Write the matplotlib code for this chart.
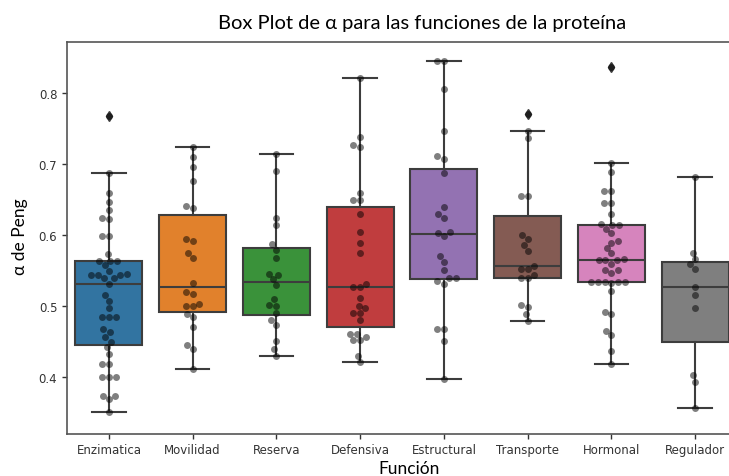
import numpy as np
import matplotlib.pyplot as plt

# categorias del eje x
funciones = ["Enzimatica", "Movilidad", "Reserva", "Defensiva",
             "Estructural", "Transporte", "Hormonal", "Regulador"]

# alfa de Peng por funcion
enzimatica = [0.7674, 0.6866, 0.6594, 0.6462, 0.6350, 0.6228, 0.6242,
              0.5984, 0.5984, 0.5725, 0.5631, 0.5631, 0.5631, 0.5570,
              0.5491, 0.5444, 0.5430, 0.5430, 0.5430, 0.5383, 0.5383,
              0.5312, 0.5148, 0.5068, 0.4960, 0.4833, 0.4833, 0.4833,
              0.4669, 0.4631, 0.4552, 0.4491, 0.4411, 0.4317, 0.4176,
              0.4176, 0.3988, 0.3988, 0.3988, 0.3730, 0.3730, 0.3683,
              0.3505]
movilidad = [0.7242, 0.7101, 0.6960, 0.6758, 0.6406, 0.6383, 0.5937,
             0.5913, 0.5749, 0.5678, 0.5317, 0.5195, 0.5162, 0.4998,
             0.4998, 0.5021, 0.4880, 0.4833, 0.4692, 0.4444, 0.4387,
             0.4106]
reserva = [0.7143, 0.6899, 0.6242, 0.6134, 0.5866, 0.5786, 0.5678,
           0.5453, 0.5430, 0.5373, 0.5289, 0.5092, 0.5007, 0.4998,
           0.4894, 0.4796, 0.4730, 0.4505, 0.4387, 0.4293]
defensiva = [0.8204, 0.7378, 0.7261, 0.7237, 0.6594, 0.6491, 0.6486,
             0.6289, 0.6040, 0.5890, 0.5739, 0.5303, 0.5256, 0.5256,
             0.5101, 0.4998, 0.4960, 0.4894, 0.4894, 0.4796, 0.4599,
             0.4599, 0.4561, 0.4514, 0.4514, 0.4293, 0.4200]
estructural = [0.8444, 0.8444, 0.8049, 0.7462, 0.7110, 0.7073, 0.6876,
               0.6392, 0.6298, 0.6242, 0.6040, 0.6031, 0.5984, 0.5702,
               0.5617, 0.5500, 0.5383, 0.5383, 0.5350, 0.5312, 0.4669,
               0.4669, 0.4505, 0.3965]
transporte = [0.7697, 0.7462, 0.7359, 0.6547, 0.6547, 0.5993, 0.5937,
              0.5852, 0.5772, 0.5561, 0.5523, 0.5523, 0.5430, 0.5383,
              0.5383, 0.5007, 0.4974, 0.4880, 0.4786]
hormonal = [0.8369, 0.7007, 0.6885, 0.6617, 0.6617, 0.6453, 0.6453,
            0.6289, 0.6157, 0.6134, 0.6134, 0.6087, 0.6031, 0.5913,
            0.5890, 0.5819, 0.5749, 0.5664, 0.5646, 0.5646, 0.5646,
            0.5594, 0.5500, 0.5500, 0.5467, 0.5340, 0.5340, 0.5340,
            0.5340, 0.5340, 0.5326, 0.5209, 0.4913, 0.4880, 0.4646,
            0.4585, 0.4364, 0.4176]
regulador = [0.6815, 0.5749, 0.5655, 0.5584, 0.5514, 0.5265, 0.5148,
             0.4960, 0.4021, 0.3927, 0.3552]

datos = [enzimatica, movilidad, reserva, defensiva,
         estructural, transporte, hormonal, regulador]

colores = ["#3274a1", "#e1812c", "#3a923a", "#c03d3e",
           "#9372b2", "#845b53", "#d684bd", "#7f7f7f"]
gris = "#3d3d3d"


def swarm_offsets(valores, ax, x0, diam):
    # acomoda los puntos tipo beeswarm en pixeles, devuelve x en datos
    pts = ax.transData.transform([(x0, v) for v in valores])
    ys = pts[:, 1]
    orden = np.argsort(ys)
    colocados = []
    xs_px = np.zeros(len(valores))
    for i in orden:
        y = ys[i]
        vecinos = [(px, py) for px, py in colocados if abs(py - y) < diam]
        cand = [0.0]
        for px, py in vecinos:
            dx = np.sqrt(diam ** 2 - (py - y) ** 2)
            cand += [px - dx, px + dx]
        cand.sort(key=lambda c: (abs(c), c))
        for c in cand:
            ok = all((c - px) ** 2 + (y - py) ** 2 >= diam ** 2 - 1e-6
                     for px, py in vecinos)
            if ok:
                break
        colocados.append((c, y))
        xs_px[i] = c
    centro = pts[0, 0]
    inv = ax.transData.inverted()
    return inv.transform(np.column_stack([centro + xs_px, ys]))[:, 0]


fig = plt.figure(figsize=(7.29, 4.77), dpi=100)
ax = fig.add_axes([67 / 729, 42.5 / 477, 670 / 729, 392 / 477])

bp = ax.boxplot(datos, positions=range(len(datos)), widths=0.8,
                patch_artist=True,
                boxprops=dict(edgecolor=gris, linewidth=1.5),
                medianprops=dict(color=gris, linewidth=1.5),
                whiskerprops=dict(color=gris, linewidth=1.5),
                capprops=dict(color=gris, linewidth=1.5),
                flierprops=dict(marker="d", markerfacecolor=gris,
                                markeredgecolor=gris, markersize=5))
for caja, c in zip(bp["boxes"], colores):
    caja.set_facecolor(c)

ax.set_xlim(-0.5, len(datos) - 0.5)
ax.set_ylim(0.3197, 0.8725)

diam = 5 * fig.dpi / 72
for i, vals in enumerate(datos):
    xs = swarm_offsets(vals, ax, i, diam)
    ax.scatter(xs, vals, s=25, color="black", alpha=0.5,
               linewidths=0, zorder=3)

ax.set_xticks(range(len(funciones)))
ax.set_xticklabels(funciones)
ax.set_yticks([0.4, 0.5, 0.6, 0.7, 0.8])
ax.tick_params(labelsize=8.5, colors="#333333", length=3.5, width=1)
for lado in ["left", "bottom", "top", "right"]:
    ax.spines[lado].set_color("#555555")
    ax.spines[lado].set_linewidth(1.2)

fuente = ["Lato", "DejaVu Sans"]
fig.text(422 / 729, 1 - 29 / 477, "Box Plot de α para las funciones de la proteína",
         ha="center", va="baseline", fontsize=14.5, family=fuente)
fig.text(409 / 729, 1 - 474 / 477, "Función", ha="center", va="baseline",
         fontsize=12.5, family=fuente)
fig.text(20 / 729, 1 - 237 / 477, "α de Peng", ha="center", va="center",
         rotation=90, fontsize=12.5, family=fuente)

fig.savefig("out.png", dpi=100)
